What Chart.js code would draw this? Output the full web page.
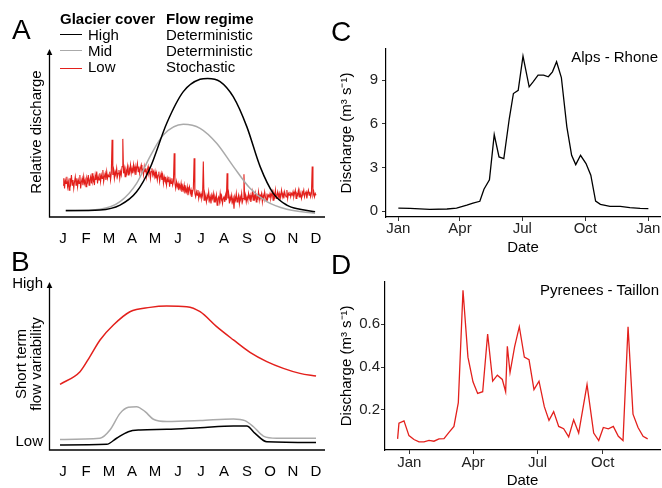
<!DOCTYPE html>
<html>
<head>
<meta charset="utf-8">
<script src="https://cdn.jsdelivr.net/npm/chart.js@4.4.1/dist/chart.umd.min.js"></script>
<style>
  body { margin: 0; background: #fff; }
  #fig { position: relative; width: 662px; height: 488px; overflow: hidden;
         font-family: "Liberation Sans", Arial, sans-serif; color: #000; }
  canvas { position: absolute; }
  .t { position: absolute; font-size: 15px; line-height: 15px; white-space: nowrap; }
  .b { font-weight: bold; }
  .big { position: absolute; font-size: 28px; line-height: 28px; }
  .rot { position: absolute; transform: translate(-50%, -50%) rotate(-90deg); text-align: center;
         font-size: 15px; line-height: 15px; white-space: nowrap; }
  .key { position: absolute; width: 22px; height: 0; border-top: 1.5px solid; }
</style>
</head>
<body>
<div id="fig">
  <canvas id="chartA" width="331" height="244" style="left:0;top:0"></canvas>
  <canvas id="chartB" width="331" height="244" style="left:0;top:244px"></canvas>
  <canvas id="chartC" width="332" height="256" style="left:330px;top:0"></canvas>
  <canvas id="chartD" width="332" height="232" style="left:330px;top:256px"></canvas>

  <div class="big" style="left:12px;top:16px">A</div>
  <div class="big" style="left:11px;top:248px">B</div>
  <div class="big" style="left:331px;top:17.5px">C</div>
  <div class="big" style="left:331px;top:251px">D</div>

  <div class="t b" style="left:60px;top:11.3px">Glacier cover</div>
  <div class="t b" style="left:166px;top:11.3px">Flow regime</div>
  <div class="key" style="left:60px;top:34.3px;border-color:#000"></div>
  <div class="key" style="left:60px;top:50.3px;border-color:#aaa"></div>
  <div class="key" style="left:60px;top:67.5px;border-color:#e3201c"></div>
  <div class="t" style="left:88px;top:26.6px">High</div>
  <div class="t" style="left:88px;top:43px">Mid</div>
  <div class="t" style="left:88px;top:59px">Low</div>
  <div class="t" style="left:166px;top:26.6px">Deterministic</div>
  <div class="t" style="left:166px;top:43px">Deterministic</div>
  <div class="t" style="left:166px;top:59px">Stochastic</div>

  <div class="rot" style="left:34.8px;top:132px">Relative discharge</div>
  <div class="rot" style="left:27.6px;top:364px">Short term<br>flow variability</div>
  <div class="t" style="left:0;width:43px;text-align:right;top:275.3px">High</div>
  <div class="t" style="left:0;width:43px;text-align:right;top:433.3px">Low</div>

  <div class="t" style="right:4px;top:49px">Alps - Rhone</div>
  <div class="t" style="right:3px;top:282.3px">Pyrenees - Taillon</div>
</div>

<script>
const months = ["J", "F", "M", "A", "M", "J", "J", "A", "S", "O", "N", "D"];

// panel A: relative discharge (month position, relative value 0-100)
const highAx = [0.12, 1.61, 2.48, 3.2, 3.78, 4.51, 5.23, 5.96, 6.29, 6.83, 7.4, 7.99, 8.57, 9.14, 9.73, 10.3, 10.96];
const highAy = [3.8, 4.2, 7.1, 15, 29, 55.8, 74.6, 82, 82.5, 80.6, 71.6, 53.8, 30, 14.1, 7.1, 4.6, 3.2];
const midAx = [0.12, 1.61, 2.48, 3.2, 3.78, 4.36, 5.23, 5.96, 6.68, 7.41, 8.13, 8.86, 9.73, 10.96];
const midAy = [3.6, 4.6, 9.1, 20, 35.9, 48.8, 55.2, 52.8, 43.9, 30, 17.1, 9.1, 4.6, 2.2];
// low cover: 30 readings per month, Jan to Dec
const lowA = [
  19, 23, 17, 22, 20, 24, 18, 21, 16, 23, 20, 25, 19, 22, 17, 21, 24, 19, 23, 18, 22, 20, 25, 17, 21, 23, 19, 24, 20, 22,
  18, 23, 21, 25, 19, 22, 24, 20, 26, 21, 23, 19, 25, 22, 27, 20, 24, 22, 26, 21, 25, 23, 28, 21, 24, 26, 22, 27, 23, 25,
  24, 27, 22, 26, 46, 25, 28, 23, 27, 25, 29, 24, 26, 28, 23, 27, 25, 30, 46.5, 26, 29, 24, 28, 26, 30, 25, 29, 27, 31, 26,
  29, 26, 31, 27, 30, 25, 29, 32, 27, 30, 26, 29, 31, 27, 28, 25, 30, 27, 29, 24, 28, 30, 26, 28, 23, 27, 29, 25, 27, 24,
  27, 23, 26, 22, 25, 27, 21, 24, 26, 22, 25, 20, 24, 22, 23, 19, 23, 21, 24, 18, 22, 20, 23, 19, 21, 38, 20, 17, 21, 18,
  20, 16, 19, 17, 20, 15, 18, 16, 19, 14, 17, 15, 18, 13, 16, 18, 14, 16, 12, 15, 17, 35, 14, 12, 15, 13, 16, 11, 14, 12,
  14, 11, 13, 33, 10, 14, 12, 9, 13, 11, 15, 10, 12, 8, 13, 11, 14, 9, 12, 10, 13, 7, 11, 12, 9, 14, 10, 12, 8, 11,
  12, 9, 13, 10, 26, 11, 14, 8, 12, 10, 13, 9, 11, 5, 12, 10, 14, 9, 11, 13, 8, 12, 10, 14, 9, 11, 25.5, 10, 13, 9,
  12, 10, 14, 11, 13, 9, 12, 15, 10, 13, 11, 14, 9, 12, 11, 15, 10, 13, 12, 14, 9, 13, 11, 15, 12, 10, 14, 11, 13, 12,
  14, 11, 13, 15, 10, 14, 12, 16, 11, 13, 15, 12, 14, 10, 13, 16, 12, 14, 11, 15, 13, 12, 16, 11, 14, 13, 15, 12, 14, 13,
  15, 12, 14, 16, 11, 14, 13, 16, 12, 15, 13, 11, 15, 14, 16, 12, 14, 15, 11, 14, 16, 13, 15, 12, 14, 30, 13, 15, 12, 14, 13
];

// panel B: short term flow variability (month position, 0-100)
const lowBx = [-0.13, 0.74, 1.17, 1.61, 2.19, 2.91, 3.78, 4.51, 5.38, 5.96, 6.68, 7.41, 8.13, 8.86, 9.58, 10.3, 11.0];
const lowBy = [39.1, 46.6, 55.6, 65.5, 74.4, 82.3, 84.9, 85.7, 85.3, 82.3, 73.4, 65.5, 58.1, 52.6, 48.6, 45.6, 44];
const midBx = [-0.13, 1.61, 2.04, 2.48, 2.84, 3.2, 3.57, 3.93, 4.51, 5.96, 7.41, 7.91, 8.27, 8.71, 9.29, 11.0];
const midBy = [6.3, 7.0, 11.9, 21.8, 25.4, 25.8, 22.8, 18.3, 16.9, 17.5, 18.5, 17.5, 14, 8.3, 7, 7];
const highBx = [-0.13, 1.9, 2.33, 2.84, 3.35, 4.51, 5.96, 7.41, 7.99, 8.35, 8.86, 11.0];
const highBy = [3, 3.4, 7, 10.9, 11.9, 12.3, 13.3, 14.3, 14.3, 9.9, 4.9, 4.4];

// panel C: Alps - Rhone (day of year, m3/s)
const dayC = [0, 17, 46, 71, 85, 100, 109, 119, 125, 133, 140, 147, 154, 162, 168, 175, 182, 191, 197, 204,
  212, 219, 225, 231, 238, 246, 253, 259, 266, 274, 281, 288, 295, 309, 324, 338, 353, 365];
const flowC = [0.2, 0.18, 0.12, 0.14, 0.2, 0.4, 0.55, 0.67, 1.5, 2.15, 5.25, 3.72, 3.6, 6.36, 8.08, 8.3, 10.65, 8.54, 8.9, 9.34,
  9.34, 9.23, 9.57, 10.26, 9.18, 5.79, 3.83, 3.19, 3.83, 3.26, 2.46, 0.69, 0.46, 0.32, 0.32, 0.23, 0.18, 0.16];

// panel D: Pyrenees - Taillon (day of year, m3/s)
const dayD = [-16.5, -14.6, -7.5, -0.5, 6.6, 13.7, 20.7, 27.8, 34.8, 41.9, 49, 56, 63, 69.2, 75.8, 82.8, 89.9, 96.5,
  103.6, 110.6, 117.7, 124.3, 131.3, 136, 138.4, 142.2, 148.7, 155.3, 162.4, 169, 176, 183.1, 190.6, 197.2, 203.8,
  210.9, 217.9, 225, 232, 239.1, 250.9, 260.3, 267.4, 273.9, 281, 288, 295.1, 301.7, 308.8, 315.8, 322.9, 330, 336.5];
const flowD = [0.065, 0.138, 0.149, 0.08, 0.062, 0.051, 0.051, 0.058, 0.054, 0.065, 0.066, 0.095, 0.123, 0.234, 0.758,
  0.446, 0.331, 0.277, 0.285, 0.554, 0.334, 0.362, 0.342, 0.285, 0.497, 0.374, 0.495, 0.588, 0.446, 0.434, 0.295,
  0.334, 0.215, 0.151, 0.192, 0.123, 0.112, 0.074, 0.154, 0.092, 0.318, 0.092, 0.057, 0.118, 0.112, 0.123, 0.077,
  0.057, 0.588, 0.18, 0.118, 0.077, 0.065];

const dateTicksC = [0, 90, 181, 273, 365];
const dateLabelsC = ["Jan", "Apr", "Jul", "Oct", "Jan"];
const dateTicksD = [0, 90, 181, 273];
const dateLabelsD = ["Jan", "Apr", "Jul", "Oct"];
const flowTicksC = [0, 3, 6, 9];
const flowTicksD = [0.2, 0.4, 0.6];

const RED = "#e3201c";
const GREY = "#aaaaaa";
const FAMILY = '"Liberation Sans", Arial, sans-serif';
Chart.defaults.font.family = FAMILY;

const pts = (xs, ys) => xs.map((x, i) => ({ x: x, y: ys[i] }));

// y axis with an arrow head, plain x axis
const arrowAxes = {
  id: "arrowAxes",
  afterDraw(chart) {
    const { ctx, chartArea: a } = chart;
    const x0 = a.left;
    ctx.save();
    ctx.strokeStyle = "#000";
    ctx.fillStyle = "#000";
    ctx.lineWidth = 1.3;
    ctx.beginPath();
    ctx.moveTo(x0, a.top + 4);
    ctx.lineTo(x0, a.bottom);
    ctx.lineTo(a.right, a.bottom);
    ctx.stroke();
    ctx.beginPath();
    ctx.moveTo(x0, a.top);
    ctx.lineTo(x0 - 2.8, a.top + 6);
    ctx.lineTo(x0 + 2.8, a.top + 6);
    ctx.closePath();
    ctx.fill();
    ctx.restore();
  }
};

function monthChart(id, datasets) {
  return new Chart(document.getElementById(id), {
    type: "line",
    data: { datasets: datasets },
    options: {
      responsive: false,
      animation: false,
      events: [],
      layout: { padding: { left: 49.5, top: id === "chartA" ? 49 : 38, right: 6, bottom: 0 } },
      plugins: { legend: { display: false }, tooltip: { enabled: false } },
      scales: {
        x: {
          type: "linear",
          min: -0.587,
          max: 11.39,
          grid: { display: false },
          border: { display: false },
          afterBuildTicks: (s) => { s.ticks = months.map((m, i) => ({ value: i })); },
          ticks: {
            callback: (v, i) => months[i],
            font: { size: 15, lineHeight: 1 },
            color: "#000",
            padding: 6,
            maxRotation: 0,
            autoSkip: false
          },
          afterFit: (s) => { s.height = id === "chartA" ? 244 - 217 : 244 - 206; }
        },
        y: { display: false, min: 0, max: 100 }
      }
    },
    plugins: [arrowAxes]
  });
}

monthChart("chartA", [
  { data: pts(highAx, highAy), borderColor: "#000", borderWidth: 1.5, pointRadius: 0, cubicInterpolationMode: "monotone" },
  { data: pts(midAx, midAy), borderColor: GREY, borderWidth: 1.5, pointRadius: 0, cubicInterpolationMode: "monotone" },
  { data: lowA.map((v, i) => ({ x: i * 11 / (lowA.length - 1), y: v })), borderColor: RED, borderWidth: 1.1, pointRadius: 0 }
]);

monthChart("chartB", [
  { data: pts(highBx, highBy), borderColor: "#000", borderWidth: 1.5, pointRadius: 0, cubicInterpolationMode: "monotone" },
  { data: pts(midBx, midBy), borderColor: GREY, borderWidth: 1.5, pointRadius: 0, cubicInterpolationMode: "monotone" },
  { data: pts(lowBx, lowBy), borderColor: RED, borderWidth: 1.5, pointRadius: 0, cubicInterpolationMode: "monotone" }
]);

function flowChart(id, o) {
  return new Chart(document.getElementById(id), {
    type: "line",
    data: {
      datasets: [{ data: pts(o.days, o.flow), borderColor: o.color, borderWidth: 1.3, pointRadius: 0, tension: 0 }]
    },
    options: {
      responsive: false,
      animation: false,
      events: [],
      layout: { padding: { left: 4, top: o.top, right: 2, bottom: o.bottom } },
      plugins: { legend: { display: false }, tooltip: { enabled: false } },
      scales: {
        x: {
          type: "linear",
          min: o.xmin,
          max: o.xmax,
          grid: { display: true, drawOnChartArea: false, drawTicks: true, tickLength: 4, color: "#333", lineWidth: 1 },
          border: { display: true, color: "#000", width: 1.2 },
          afterBuildTicks: (s) => { s.ticks = o.xticks.map((v) => ({ value: v })); },
          ticks: {
            callback: (v, i) => o.xlabels[i],
            font: { size: 15, lineHeight: 1 },
            color: "#222",
            padding: o.xpad,
            maxRotation: 0,
            autoSkip: false
          },
          title: { display: true, text: "Date", color: "#000", font: { size: 15, lineHeight: 1 }, padding: { top: 0, bottom: 0 } },
          afterFit: (s) => { s.height = o.xh; }
        },
        y: {
          min: o.ymin,
          max: o.ymax,
          grid: { display: true, drawOnChartArea: false, drawTicks: true, tickLength: 4, color: "#333", lineWidth: 1 },
          border: { display: true, color: "#000", width: 1.2 },
          afterBuildTicks: (s) => { s.ticks = o.yticks.map((v) => ({ value: v })); },
          ticks: {
            callback: (v) => String(v),
            font: { size: 15, lineHeight: 1 },
            color: "#222",
            padding: o.ypad
          },
          title: { display: true, text: "Discharge (m³ s⁻¹)", color: "#000", font: { size: 15 }, padding: { top: 4, bottom: 0 } },
          afterFit: (s) => { s.width = o.yw; }
        }
      }
    }
  });
}

flowChart("chartC", {
  days: dayC, flow: flowC, color: "#000",
  top: 49, bottom: 1, xh: 256 - 1 - 217, yw: 52,
  xmin: -18, xmax: 382, ymin: -0.41, ymax: 11.14,
  xticks: dateTicksC, xlabels: dateLabelsC, yticks: flowTicksC,
  xpad: 0, ypad: 4
});

flowChart("chartD", {
  days: dayD, flow: flowD, color: RED,
  top: 25.7, bottom: 0, xh: 232 - 194, yw: 51,
  xmin: -34.3, xmax: 353.9, ymin: 0.013, ymax: 0.798,
  xticks: dateTicksD, xlabels: dateLabelsD, yticks: flowTicksD,
  xpad: 1, ypad: 1
});
</script>
</body>
</html>
